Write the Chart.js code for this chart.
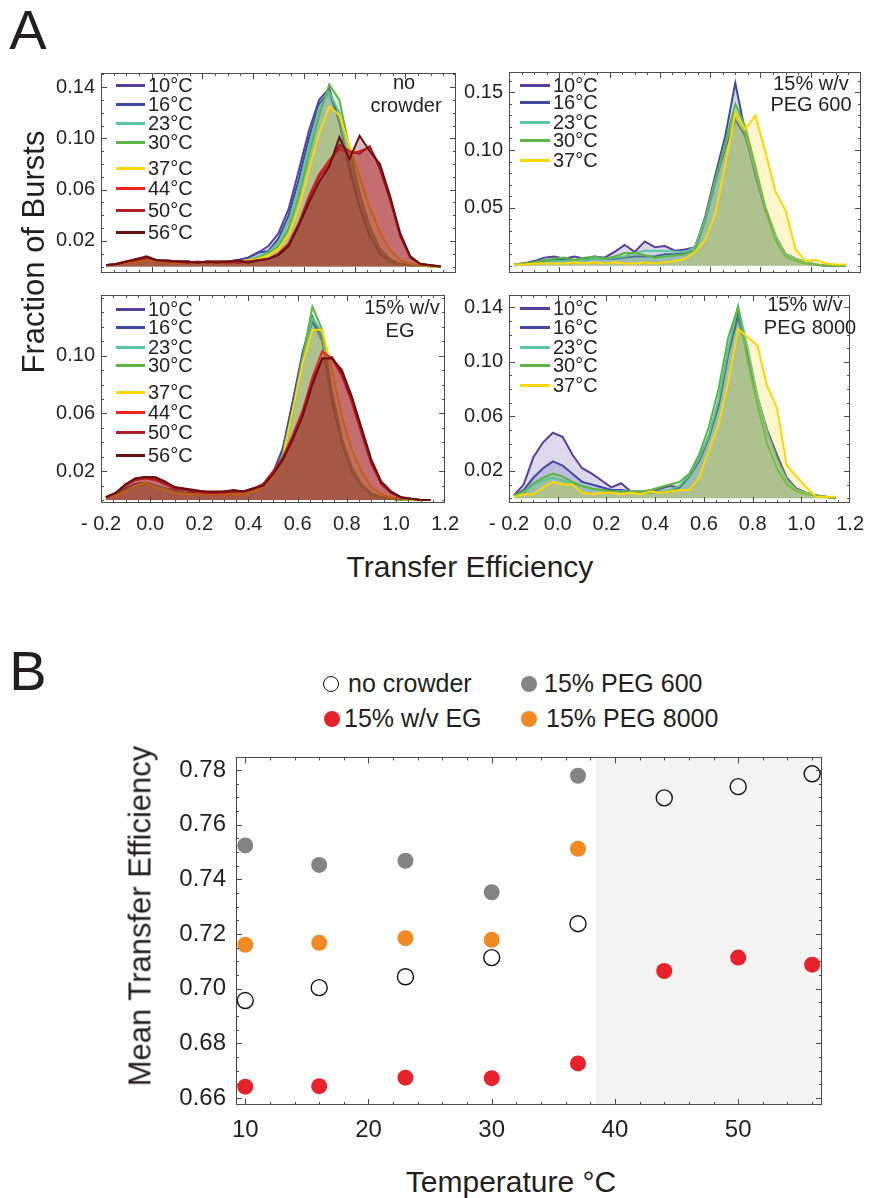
<!DOCTYPE html>
<html>
<head>
<meta charset="utf-8">
<script src="https://cdn.jsdelivr.net/npm/chart.js@4.4.1/dist/chart.umd.min.js"></script>
<style>
  html, body { margin: 0; padding: 0; background: #fff; }
  #fig { position: relative; width: 880px; height: 1198px; overflow: hidden; background: #fff; }
  #fig canvas { position: absolute; }
  .lbl { position: absolute; font-family: "Liberation Sans", Arial, Helvetica, sans-serif; color: #231f20; white-space: nowrap; line-height: 1; }
  .swatch { position: absolute; height: 3px; }
  .dot { position: absolute; border-radius: 50%; box-sizing: border-box; }
</style>
</head>
<body>
<div id="fig">
  <canvas id="cTL"></canvas>
  <canvas id="cTR"></canvas>
  <canvas id="cBL"></canvas>
  <canvas id="cBR"></canvas>
  <canvas id="cB"></canvas>
</div>
<script>
'use strict';

// ---- panel A: histogram bins (transfer efficiency) ----
const xBins = [-0.18, -0.14, -0.10, -0.06, -0.02, 0.02, 0.06, 0.10, 0.14, 0.18, 0.22, 0.26, 0.30, 0.34, 0.38, 0.42, 0.46,
  0.50, 0.54, 0.58, 0.62, 0.66, 0.70, 0.74, 0.78, 0.82, 0.86, 0.90, 0.94, 0.98, 1.02, 1.06, 1.10, 1.14];
const xTickLabels = [-0.2, 0.0, 0.2, 0.4, 0.6, 0.8, 1.0, 1.2];
const temps = ['10', '16', '23', '30', '37', '44', '50', '56'];

// no crowder
const nc10 = [0.001,0.002,0.003,0.005,0.006,0.004,0.004,0.004,0.004,0.003,0.004,0.004,0.004,0.005,0.007,0.011,0.016,0.026,0.045,0.075,0.106,0.130,0.139,0.112,0.075,0.046,0.024,0.010,0.004,0.002,0.001,0.001,0.000,0.000];
const nc16 = [0.001,0.002,0.003,0.004,0.005,0.004,0.004,0.004,0.003,0.003,0.003,0.004,0.004,0.005,0.007,0.011,0.012,0.022,0.040,0.068,0.100,0.127,0.136,0.114,0.078,0.047,0.024,0.011,0.005,0.002,0.001,0.001,0.000,0.000];
const nc23 = [0.001,0.002,0.003,0.004,0.005,0.004,0.004,0.004,0.004,0.003,0.004,0.004,0.004,0.004,0.005,0.008,0.011,0.019,0.035,0.062,0.094,0.124,0.136,0.120,0.084,0.052,0.027,0.012,0.005,0.002,0.001,0.001,0.000,0.000];
const nc30 = [0.001,0.002,0.003,0.004,0.005,0.004,0.004,0.003,0.004,0.003,0.003,0.004,0.004,0.004,0.005,0.007,0.010,0.016,0.030,0.055,0.087,0.118,0.142,0.130,0.092,0.057,0.031,0.014,0.006,0.002,0.001,0.001,0.000,0.000];
const nc37 = [0.001,0.002,0.003,0.004,0.005,0.004,0.003,0.003,0.003,0.003,0.003,0.003,0.004,0.004,0.005,0.006,0.009,0.014,0.025,0.046,0.075,0.104,0.125,0.118,0.094,0.070,0.046,0.027,0.013,0.005,0.002,0.001,0.000,0.000];
const nc44 = [0.001,0.002,0.004,0.006,0.007,0.005,0.004,0.004,0.004,0.003,0.004,0.004,0.003,0.004,0.004,0.005,0.006,0.010,0.018,0.034,0.055,0.072,0.083,0.092,0.088,0.090,0.093,0.078,0.053,0.024,0.007,0.002,0.001,0.000];
const nc50 = [0.001,0.002,0.004,0.005,0.007,0.005,0.004,0.004,0.003,0.004,0.003,0.004,0.004,0.003,0.004,0.005,0.006,0.010,0.017,0.033,0.053,0.070,0.080,0.095,0.090,0.088,0.094,0.076,0.052,0.024,0.007,0.002,0.001,0.000];
const nc56 = [0.001,0.002,0.004,0.006,0.008,0.005,0.005,0.004,0.004,0.003,0.004,0.003,0.004,0.005,0.003,0.005,0.006,0.009,0.016,0.032,0.050,0.066,0.078,0.101,0.084,0.102,0.090,0.080,0.055,0.026,0.008,0.002,0.001,0.000];

// 15% w/v PEG 600
const p600_10 = [0.001,0.002,0.004,0.007,0.008,0.006,0.008,0.006,0.008,0.007,0.012,0.018,0.012,0.021,0.016,0.017,0.013,0.014,0.016,0.040,0.072,0.102,0.126,0.112,0.080,0.050,0.026,0.010,0.006,0.003,0.001,0.000,0.000,0.000];
const p600_16 = [0.001,0.002,0.003,0.004,0.005,0.005,0.005,0.005,0.006,0.006,0.006,0.007,0.008,0.008,0.008,0.010,0.010,0.011,0.016,0.042,0.078,0.112,0.158,0.115,0.078,0.048,0.024,0.010,0.006,0.003,0.001,0.000,0.000,0.000];
const p600_23 = [0.001,0.001,0.002,0.003,0.004,0.004,0.005,0.005,0.006,0.006,0.007,0.008,0.011,0.013,0.013,0.013,0.012,0.012,0.016,0.040,0.074,0.105,0.132,0.116,0.082,0.050,0.026,0.010,0.006,0.003,0.001,0.000,0.000,0.000];
const p600_30 = [0.001,0.002,0.003,0.005,0.006,0.007,0.005,0.007,0.008,0.006,0.008,0.011,0.011,0.009,0.007,0.008,0.009,0.010,0.013,0.038,0.072,0.106,0.140,0.120,0.086,0.050,0.022,0.008,0.004,0.002,0.001,0.000,0.000,0.000];
const p600_37 = [0.001,0.001,0.002,0.002,0.002,0.002,0.003,0.002,0.003,0.002,0.003,0.002,0.002,0.003,0.002,0.003,0.004,0.006,0.012,0.022,0.045,0.088,0.132,0.118,0.130,0.098,0.064,0.048,0.014,0.004,0.005,0.002,0.001,0.001];

// 15% w/v EG
const eg10 = [0.002,0.004,0.008,0.011,0.012,0.010,0.008,0.007,0.005,0.005,0.004,0.005,0.005,0.005,0.006,0.007,0.010,0.018,0.035,0.068,0.100,0.124,0.110,0.068,0.040,0.020,0.010,0.004,0.002,0.001,0.000,0.000,0.000,0.000];
const eg16 = [0.002,0.004,0.008,0.011,0.012,0.010,0.008,0.006,0.005,0.005,0.004,0.004,0.005,0.005,0.006,0.008,0.011,0.019,0.036,0.068,0.102,0.127,0.112,0.070,0.040,0.021,0.010,0.004,0.002,0.001,0.000,0.000,0.000,0.000];
const eg23 = [0.002,0.003,0.007,0.010,0.011,0.010,0.008,0.006,0.005,0.004,0.004,0.004,0.004,0.005,0.005,0.007,0.010,0.017,0.032,0.062,0.098,0.126,0.116,0.075,0.043,0.023,0.011,0.005,0.002,0.001,0.000,0.000,0.000,0.000];
const eg30 = [0.002,0.003,0.007,0.010,0.011,0.009,0.007,0.006,0.005,0.004,0.004,0.004,0.004,0.004,0.005,0.007,0.010,0.016,0.030,0.060,0.098,0.134,0.118,0.074,0.042,0.021,0.010,0.004,0.002,0.001,0.000,0.000,0.000,0.000];
const eg37 = [0.002,0.003,0.006,0.010,0.012,0.009,0.007,0.005,0.004,0.004,0.004,0.004,0.004,0.004,0.004,0.006,0.009,0.016,0.030,0.062,0.095,0.118,0.118,0.090,0.058,0.035,0.020,0.009,0.004,0.002,0.001,0.000,0.000,0.000];
const eg44 = [0.002,0.005,0.010,0.014,0.015,0.014,0.011,0.008,0.007,0.006,0.005,0.005,0.005,0.006,0.006,0.008,0.011,0.020,0.030,0.045,0.062,0.085,0.103,0.098,0.086,0.068,0.046,0.025,0.011,0.005,0.002,0.001,0.000,0.000];
const eg50 = [0.002,0.005,0.011,0.015,0.016,0.015,0.012,0.009,0.007,0.006,0.006,0.005,0.006,0.006,0.006,0.008,0.011,0.019,0.029,0.044,0.060,0.083,0.098,0.099,0.088,0.070,0.048,0.026,0.012,0.005,0.002,0.001,0.000,0.000];
const eg56 = [0.002,0.005,0.011,0.015,0.016,0.016,0.013,0.009,0.008,0.007,0.006,0.006,0.006,0.007,0.006,0.008,0.010,0.018,0.028,0.042,0.058,0.080,0.098,0.098,0.090,0.072,0.050,0.028,0.013,0.006,0.002,0.001,0.000,0.000];

// 15% w/v PEG 8000
const p8k10 = [0.002,0.010,0.030,0.041,0.048,0.045,0.032,0.022,0.018,0.013,0.008,0.011,0.005,0.005,0.004,0.007,0.009,0.008,0.016,0.027,0.044,0.068,0.106,0.133,0.105,0.074,0.050,0.032,0.015,0.007,0.004,0.002,0.001,0.000];
const p8k16 = [0.002,0.006,0.015,0.022,0.027,0.024,0.018,0.012,0.010,0.008,0.006,0.006,0.005,0.004,0.004,0.005,0.005,0.008,0.016,0.028,0.045,0.068,0.106,0.135,0.107,0.074,0.048,0.030,0.014,0.007,0.004,0.002,0.001,0.000];
const p8k23 = [0.002,0.004,0.010,0.013,0.015,0.013,0.011,0.009,0.007,0.006,0.005,0.005,0.005,0.004,0.004,0.005,0.006,0.009,0.017,0.029,0.046,0.072,0.110,0.141,0.110,0.075,0.048,0.028,0.013,0.006,0.004,0.002,0.001,0.000];
const p8k30 = [0.002,0.005,0.011,0.015,0.018,0.016,0.012,0.009,0.007,0.006,0.005,0.005,0.005,0.005,0.006,0.008,0.010,0.012,0.018,0.032,0.052,0.080,0.118,0.140,0.100,0.068,0.040,0.022,0.010,0.005,0.003,0.002,0.001,0.000];
const p8k37 = [0.001,0.003,0.003,0.008,0.012,0.010,0.010,0.004,0.003,0.004,0.004,0.003,0.004,0.003,0.005,0.004,0.005,0.006,0.006,0.015,0.035,0.054,0.086,0.124,0.118,0.112,0.082,0.066,0.024,0.016,0.008,0.001,0.001,0.001];

// y tick labels of the four histograms
const tlYTicks = [0.02, 0.06, 0.10, 0.14];
const trYTicks = [0.05, 0.10, 0.15];
const blYTicks = [0.02, 0.06, 0.10];
const brYTicks = [0.02, 0.06, 0.10, 0.14];

// ---- panel B: mean transfer efficiency vs temperature ----
const bTemps = [10, 16, 23, 30, 37, 44, 50, 56];
const meanNoCrowder = [0.6957, 0.7004, 0.7044, 0.7114, 0.7238, 0.7698, 0.7739, 0.7786];
const meanEG = [0.6642, 0.6644, 0.6675, 0.6673, 0.6727, 0.7065, 0.7114, 0.7088];
const meanPEG600 = [0.7524, 0.7453, 0.7468, 0.7353, 0.7779];
const meanPEG8000 = [0.7161, 0.7168, 0.7185, 0.7179, 0.7512];
const bXTicks = [10, 20, 30, 40, 50];
const bYTicks = [0.66, 0.68, 0.70, 0.72, 0.74, 0.76, 0.78];

// colours
const tempColors = ['#5b3e9c', '#3d4aa6', '#5cc6a6', '#5cb545', '#ffd700', '#f0211f', '#b11f2a', '#6a1010'];
const tempFills = ['rgba(91,62,156,0.2)', 'rgba(61,74,166,0.2)', 'rgba(92,198,166,0.2)', 'rgba(92,181,69,0.22)',
  'rgba(255,215,0,0.2)', 'rgba(240,33,31,0.28)', 'rgba(177,31,42,0.28)', 'rgba(106,16,16,0.28)'];

const FONT = '"Liberation Sans", Arial, Helvetica, sans-serif';
const INK = '#231f20';
const fig = document.getElementById('fig');

// frame with inward ticks on all four sides (Mathematica style), optional shaded band
function framePlugin(cfg) {
  const marks = (scale, majors, step) => {
    const out = [];
    const k0 = Math.ceil(scale.min / step - 1e-6), k1 = Math.floor(scale.max / step + 1e-6);
    for (let k = k0; k <= k1; k++) out.push({ v: k * step, len: 3 });
    majors.forEach(v => out.push({ v, len: 6 }));
    return out;
  };
  return {
    id: 'frame',
    beforeDatasetsDraw(chart) {
      if (cfg.shadeFrom == null) return;
      const a = chart.chartArea, ctx = chart.ctx;
      const p = chart.scales.x.getPixelForValue(cfg.shadeFrom);
      ctx.save();
      ctx.fillStyle = '#f3f3f3';
      ctx.fillRect(p, a.top, a.right - p, a.bottom - a.top);
      ctx.restore();
    },
    afterDatasetsDraw(chart) {
      const a = chart.chartArea, ctx = chart.ctx, x = chart.scales.x, y = chart.scales.y;
      ctx.save();
      ctx.strokeStyle = '#4a4a4a';
      ctx.lineWidth = 1;
      ctx.strokeRect(Math.round(a.left) + 0.5, Math.round(a.top) + 0.5, Math.round(a.right - a.left) - 1, Math.round(a.bottom - a.top) - 1);
      ctx.beginPath();
      marks(x, cfg.xMajor, cfg.xMinor).forEach(m => {
        const p = Math.round(x.getPixelForValue(m.v)) + 0.5;
        if (p < a.left + 1 || p > a.right - 1) return;
        ctx.moveTo(p, a.bottom); ctx.lineTo(p, a.bottom - m.len);
        ctx.moveTo(p, a.top); ctx.lineTo(p, a.top + m.len);
      });
      marks(y, cfg.yMajor, cfg.yMinor).forEach(m => {
        const p = Math.round(y.getPixelForValue(m.v)) + 0.5;
        if (p < a.top + 1 || p > a.bottom - 1) return;
        ctx.moveTo(a.left, p); ctx.lineTo(a.left + m.len, p);
        ctx.moveTo(a.right, p); ctx.lineTo(a.right - m.len, p);
      });
      ctx.stroke();
      ctx.restore();
    }
  };
}

function fmtX(v) {
  if (v < -1e-9) return '- ' + (-v).toFixed(1);
  return Math.abs(v).toFixed(1);
}

// one histogram panel of A
function densityChart(id, box, yMin, yMax, yTicks, yMinor, series, showX) {
  const cv = document.getElementById(id);
  const padL = 70, padT = 10, padR = 12, padB = showX ? 40 : 6;
  cv.width = (box.r - box.l) + padL + padR;
  cv.height = (box.b - box.t) + padT + padB;
  cv.style.left = (box.l - padL) + 'px';
  cv.style.top = (box.t - padT) + 'px';
  const n = series.length;
  new Chart(cv, {
    type: 'line',
    data: {
      datasets: series.map((vals, i) => ({
        label: temps[i] + '°C',
        data: xBins.map((x, j) => ({ x: x, y: vals[j] })),
        borderColor: tempColors[i],
        backgroundColor: tempFills[i],
        borderWidth: 2,
        pointRadius: 0,
        tension: 0,
        fill: 'origin',
        order: n - i
      }))
    },
    options: {
      responsive: false,
      animation: false,
      devicePixelRatio: 1,
      layout: { padding: { left: 0, top: padT, right: padR, bottom: showX ? 0 : padB } },
      plugins: { legend: { display: false }, tooltip: { enabled: false } },
      scales: {
        x: {
          type: 'linear', min: -0.2, max: 1.2, display: showX,
          grid: { display: false, drawTicks: false }, border: { display: false },
          afterBuildTicks: s => { s.ticks = xTickLabels.map(v => ({ value: v })); },
          afterFit: s => { s.height = padB; },
          ticks: { padding: 9, color: INK, autoSkip: false, maxRotation: 0, font: { family: FONT, size: 20 }, callback: v => fmtX(v) }
        },
        y: {
          type: 'linear', min: yMin, max: yMax,
          grid: { display: false, drawTicks: false }, border: { display: false },
          afterBuildTicks: s => { s.ticks = yTicks.map(v => ({ value: v })); },
          afterFit: s => { s.width = padL; },
          ticks: { padding: 6, color: INK, font: { family: FONT, size: 20 }, callback: v => v.toFixed(2) }
        }
      }
    },
    plugins: [framePlugin({ xMajor: xTickLabels, xMinor: 0.05, yMajor: yTicks, yMinor: yMinor })]
  });
}

densityChart('cTL', { l: 101, t: 65, r: 456, b: 285 }, -0.005, 0.151, tlYTicks, 0.01,
  [nc10, nc16, nc23, nc30, nc37, nc44, nc50, nc56], false);
densityChart('cTR', { l: 509, t: 64, r: 861, b: 285 }, -0.0063, 0.1675, trYTicks, 0.01,
  [p600_10, p600_16, p600_23, p600_30, p600_37], false);
densityChart('cBL', { l: 101, t: 287, r: 456, b: 503 }, -0.002, 0.142, blYTicks, 0.01,
  [eg10, eg16, eg23, eg30, eg37, eg44, eg50, eg56], true);
densityChart('cBR', { l: 509, t: 287, r: 861, b: 503 }, -0.0035, 0.149, brYTicks, 0.01,
  [p8k10, p8k16, p8k23, p8k30, p8k37], true);

// panel B scatter
(function () {
  const cv = document.getElementById('cB');
  const box = { l: 236, t: 745, r: 822, b: 1105 };
  const padL = 90, padT = 12, padR = 14, padB = 45;
  cv.width = (box.r - box.l) + padL + padR;
  cv.height = (box.b - box.t) + padT + padB;
  cv.style.left = (box.l - padL) + 'px';
  cv.style.top = (box.t - padT) + 'px';
  const pts = (vals) => vals.map((v, i) => ({ x: bTemps[i], y: v }));
  const filled = (label, vals, color) => ({
    label: label, data: pts(vals), pointRadius: 8, pointBackgroundColor: color,
    pointBorderColor: color, pointBorderWidth: 0, showLine: false, clip: false
  });
  new Chart(cv, {
    type: 'scatter',
    data: {
      datasets: [
        filled('15% PEG 600', meanPEG600, '#848484'),
        filled('15% PEG 8000', meanPEG8000, '#f28a24'),
        filled('15% w/v EG', meanEG, '#e8212b'),
        { label: 'no crowder', data: pts(meanNoCrowder), pointRadius: 8, pointBackgroundColor: 'rgba(255,255,255,0)',
          pointBorderColor: '#111', pointBorderWidth: 1.4, showLine: false, clip: false }
      ]
    },
    options: {
      responsive: false,
      animation: false,
      devicePixelRatio: 1,
      layout: { padding: { left: 0, top: padT, right: padR, bottom: 0 } },
      plugins: { legend: { display: false }, tooltip: { enabled: false } },
      scales: {
        x: {
          type: 'linear', min: 9.25, max: 56.8,
          grid: { display: false, drawTicks: false }, border: { display: false },
          afterBuildTicks: s => { s.ticks = bXTicks.map(v => ({ value: v })); },
          afterFit: s => { s.height = padB; },
          ticks: { padding: 11, color: INK, autoSkip: false, maxRotation: 0, font: { family: FONT, size: 24 }, callback: v => String(v) }
        },
        y: {
          type: 'linear', min: 0.6575, max: 0.7846,
          grid: { display: false, drawTicks: false }, border: { display: false },
          afterBuildTicks: s => { s.ticks = bYTicks.map(v => ({ value: v })); },
          afterFit: s => { s.width = padL; },
          ticks: { padding: 10, color: INK, font: { family: FONT, size: 24 }, callback: v => v.toFixed(2) }
        }
      }
    },
    plugins: [framePlugin({ xMajor: bXTicks, xMinor: 2, yMajor: bYTicks, yMinor: 0.005, shadeFrom: 38.45 })]
  });
})();

// ---- text, legends ----
function label(html, x, y, size, align, rotate) {
  const d = document.createElement('div');
  d.className = 'lbl';
  d.innerHTML = html;
  d.style.left = x + 'px';
  d.style.top = y + 'px';
  d.style.fontSize = size + 'px';
  const tx = align === 'left' ? '0' : '-50%';
  d.style.transform = 'translate(' + tx + ',-50%)' + (rotate ? ' rotate(-90deg)' : '');
  fig.appendChild(d);
  return d;
}

label('A', 28, 30, 56);
label('B', 28, 671, 56);
label('Fraction of Bursts', 33, 252, 31, 'center', true);
label('Transfer Efficiency', 470, 567, 30);
label('Mean Transfer Efficiency', 140, 916, 31, 'center', true);
label('Temperature °C', 511, 1182, 30);

// panel annotations
label('no', 404, 82, 20); label('crowder', 406, 105, 20);
label('15% w/v', 811, 83, 20); label('PEG 600', 811, 104, 20);
label('15% w/v', 402, 307, 20); label('EG', 400, 330, 20);
label('15% w/v', 805, 304, 20); label('PEG 8000', 810, 327, 20);

// legends of the four histograms
const legendRows = [
  { x0: 116, x1: 145, tx: 148, ys: [85, 104, 123, 142, 168, 188, 210, 232] },
  { x0: 520, x1: 550, tx: 553, ys: [85, 102, 122, 140, 160] },
  { x0: 116, x1: 145, tx: 148, ys: [309, 327, 347, 365, 392, 412, 432, 455] },
  { x0: 520, x1: 550, tx: 553, ys: [308, 327, 347, 365, 385] }
];
legendRows.forEach(g => {
  g.ys.forEach((y, i) => {
    const s = document.createElement('div');
    s.className = 'swatch';
    s.style.left = g.x0 + 'px';
    s.style.width = (g.x1 - g.x0) + 'px';
    s.style.top = (y - 1.5) + 'px';
    s.style.background = tempColors[i];
    fig.appendChild(s);
    label(temps[i] + '°C', g.tx, y, 20, 'left');
  });
});

// legend of panel B
function dot(cx, cy, r, fill, stroke) {
  const d = document.createElement('div');
  d.className = 'dot';
  d.style.left = (cx - r) + 'px';
  d.style.top = (cy - r) + 'px';
  d.style.width = (2 * r) + 'px';
  d.style.height = (2 * r) + 'px';
  d.style.background = fill;
  if (stroke) d.style.border = '1.4px solid ' + stroke;
  fig.appendChild(d);
}
dot(331, 684, 8, '#fff', '#111'); label('no crowder', 348, 683, 25, 'left');
dot(529, 684, 8, '#848484');      label('15% PEG 600', 544, 683, 25, 'left');
dot(332, 719, 8, '#e8212b');      label('15% w/v EG', 344, 718, 25, 'left');
dot(529, 719, 8, '#f28a24');      label('15% PEG 8000', 546, 718, 25, 'left');
</script>
</body>
</html>
